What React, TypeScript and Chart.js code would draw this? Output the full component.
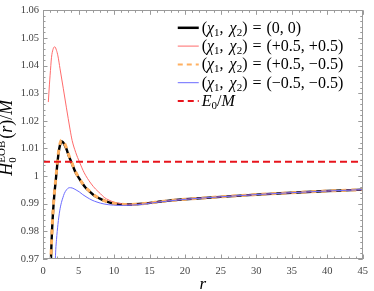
import React, { useEffect, useRef } from 'react';
import { Chart, registerables } from 'chart.js';

Chart.register(...registerables);

// ---------- data ----------
const rBlack = [1.1, 1.2, 1.4, 1.6, 1.8, 2.0, 2.2, 2.4, 2.6, 2.8, 3.0, 3.3, 3.6, 4.0, 4.5, 5.0, 5.5, 6.0, 6.5, 7.2, 7.9, 8.6, 9.3, 10, 11, 12, 13, 14, 16, 18, 20, 25, 30, 35, 40, 45];
const hBlack = [0.968, 0.976, 0.9865, 0.9935, 0.9985, 1.004, 1.0085, 1.0113, 1.0125, 1.0123, 1.0115, 1.0098, 1.0075, 1.005, 1.0018, 0.9995, 0.9975, 0.9958, 0.9946, 0.993, 0.992, 0.9911, 0.9905, 0.9901, 0.9898, 0.9897, 0.9898, 0.99, 0.9906, 0.9912, 0.9916, 0.9925, 0.9933, 0.994, 0.9946, 0.9951];

const rRed = [0.75, 0.9, 1.0, 1.2, 1.4, 1.65, 1.9, 2.1, 2.4, 2.85, 3.3, 3.8, 4.1, 4.6, 5.15, 5.8, 6.7, 7.4, 8.1, 8.6, 9.3, 10, 11, 12, 13, 14, 16, 18, 20, 25, 30, 35, 40, 45];
const hRed = [1.0268, 1.033, 1.0365, 1.043, 1.0458, 1.0468, 1.0455, 1.0435, 1.0388, 1.0318, 1.0247, 1.017, 1.0129, 1.0086, 1.005, 1.0012, 0.9975, 0.9953, 0.9936, 0.9923, 0.9913, 0.9906, 0.99, 0.9898, 0.9898, 0.99, 0.9906, 0.9912, 0.9916, 0.9925, 0.9933, 0.994, 0.9946, 0.9951];

const rOrange = [1.1, 1.2, 1.4, 1.6, 1.8, 2.0, 2.2, 2.4, 2.6, 2.8, 3.0, 3.3, 3.6, 4.0, 4.5, 5.0, 5.5, 6.0, 6.5, 7.2, 7.9, 8.6, 9.3, 10, 11, 12, 13, 14, 16, 18, 20, 25, 30, 35, 40, 45];
const hOrange = [0.968, 0.976, 0.9867, 0.9938, 0.999, 1.0045, 1.009, 1.0118, 1.013, 1.0128, 1.012, 1.0102, 1.0078, 1.0052, 1.002, 0.9996, 0.9976, 0.9959, 0.9947, 0.9931, 0.992, 0.9911, 0.9905, 0.9901, 0.9898, 0.9897, 0.9898, 0.99, 0.9906, 0.9912, 0.9916, 0.9925, 0.9933, 0.994, 0.9946, 0.9951];

const rBlue = [1.72, 1.8, 1.9, 2.1, 2.35, 2.6, 2.8, 3.0, 3.3, 3.7, 4.1, 4.65, 5.1, 5.6, 6.2, 6.9, 7.6, 8.6, 9.9, 11.3, 12.5, 14, 16, 18, 20, 25, 30, 35, 40, 45];
const hBlue = [0.969, 0.9735, 0.977, 0.9825, 0.9874, 0.9905, 0.9922, 0.9937, 0.995, 0.9958, 0.9957, 0.995, 0.9943, 0.9933, 0.9923, 0.9913, 0.9906, 0.9899, 0.9895, 0.9894, 0.9895, 0.9898, 0.9905, 0.9911, 0.9916, 0.9925, 0.9933, 0.994, 0.9946, 0.9951];

const E0 = 1.0052;

const xMin = 0, xMax = 45, xStep = 5, xMinor = 1;
const yMin = 0.97, yMax = 1.06, yStep = 0.01, yMinorPerMajor = 5;

const legendValues = ['(0, 0)', '(+0.5, +0.5)', '(+0.5, \u22120.5)', '(\u22120.5, \u22120.5)'];

// ---------- styles ----------
const SERIF = '"Liberation Serif", "Times New Roman", serif';
const font = (size: number, italic = false) => `${italic ? 'italic ' : ''}${size}px ${SERIF}`;

const C_BLACK = '#000000';
const C_RED = '#ff6b6b';
const C_ORANGE = '#ffb060';
const C_BLUE = '#6b6bff';
const C_E0 = '#e8141c';
const FRAME = '#9a9a9a';

const pts = (xs: number[], ys: number[]) => xs.map((x, i) => ({ x, y: ys[i] }));

type Run = [string, string, number];
function drawRuns(ctx: CanvasRenderingContext2D, x: number, y: number, runs: Run[]) {
  for (const [t, f, dy] of runs) {
    ctx.font = f;
    ctx.fillText(t, x, y + dy);
    x += ctx.measureText(t).width;
  }
  return x;
}
function runsWidth(ctx: CanvasRenderingContext2D, runs: Run[]) {
  let w = 0;
  for (const [t, f] of runs) {
    ctx.font = f;
    w += ctx.measureText(t).width;
  }
  return w;
}

const decorPlugin = {
  id: 'decor',
  afterDatasetsDraw(chart: any) {
    const ctx: CanvasRenderingContext2D = chart.ctx;
    const { left, right, top, bottom } = chart.chartArea;
    const xs = chart.scales.x;
    const ys = chart.scales.y;
    ctx.save();
    // frame
    ctx.strokeStyle = FRAME;
    ctx.lineWidth = 1;
    ctx.setLineDash([]);
    ctx.strokeRect(Math.round(left) + 0.5, Math.round(top) + 0.5, Math.round(right - left) - 1, Math.round(bottom - top) - 1);
    ctx.beginPath();
    const nx = Math.round((xMax - xMin) / xMinor);
    for (let i = 0; i <= nx; i++) {
      const v = xMin + i * xMinor;
      const px = Math.round(xs.getPixelForValue(v)) + 0.5;
      const len = (i * xMinor) % xStep === 0 ? 4.5 : 2.5;
      ctx.moveTo(px, bottom);
      ctx.lineTo(px, bottom - len);
      ctx.moveTo(px, top);
      ctx.lineTo(px, top + len);
    }
    const ny = Math.round((yMax - yMin) / yStep) * yMinorPerMajor;
    for (let i = 0; i <= ny; i++) {
      const v = yMin + (i * yStep) / yMinorPerMajor;
      const py = Math.round(ys.getPixelForValue(v)) + 0.5;
      const len = i % yMinorPerMajor === 0 ? 4.5 : 2.5;
      ctx.moveTo(left, py);
      ctx.lineTo(left + len, py);
      ctx.moveTo(right, py);
      ctx.lineTo(right - len, py);
    }
    ctx.stroke();

    // legend
    ctx.fillStyle = '#000';
    ctx.textBaseline = 'alphabetic';
    const lx0 = right - 185;
    const lx1 = lx0 + 21;
    const tx = lx1 + 3;
    const styles = [
      { c: C_BLACK, w: 2.5, d: [] as number[] },
      { c: C_RED, w: 1, d: [] as number[] },
      { c: C_ORANGE, w: 2, d: [5, 4] },
      { c: C_BLUE, w: 1, d: [] as number[] },
      { c: C_E0, w: 2, d: [6, 4] },
    ];
    for (let i = 0; i < 5; i++) {
      const yy = top + 17.5 + i * 18.3;
      ctx.beginPath();
      ctx.strokeStyle = styles[i].c;
      ctx.lineWidth = styles[i].w;
      ctx.setLineDash(styles[i].d);
      ctx.moveTo(lx0, yy);
      ctx.lineTo(lx1, yy);
      ctx.stroke();
      ctx.setLineDash([]);
      const base = yy + 5;
      if (i < 4) {
        let x = drawRuns(ctx, tx, base, [
          ['(', font(16), 0],
          ['\u03c7', font(16, true), 0],
          ['1', font(11), 3],
          [',', font(16), 0],
        ]);
        x += 6;
        x = drawRuns(ctx, x, base, [
          ['\u03c7', font(16, true), 0],
          ['2', font(11), 3],
          [')', font(16), 0],
        ]);
        x += 5;
        x = drawRuns(ctx, x, base, [['=', font(16), 0]]);
        x += 5;
        drawRuns(ctx, x, base, [[legendValues[i], font(16), 0]]);
      } else {
        drawRuns(ctx, tx, base, [
          ['E', font(16, true), 0],
          ['0', font(11), 3],
          ['/', font(16), 0],
          ['M', font(16, true), 0],
        ]);
      }
    }

    // x title
    ctx.font = font(17, true);
    ctx.textAlign = 'center';
    ctx.fillText('r', (left + right) / 2, 289);
    ctx.textAlign = 'left';

    // y title
    const cy = (top + bottom) / 2 + 3;
    ctx.translate(12, cy);
    ctx.rotate(-Math.PI / 2);
    ctx.font = font(18, true);
    const hW = ctx.measureText('H').width;
    ctx.font = font(11);
    const supW = ctx.measureText('EOB').width;
    const rest: Run[] = [
      ['(', font(18), 0],
      ['r', font(18, true), 0],
      [')/', font(18), 0],
      ['M', font(18, true), 0],
    ];
    const total = hW + supW + 2 + runsWidth(ctx, rest);
    let x = -total / 2;
    ctx.font = font(18, true);
    ctx.fillText('H', x, 0);
    x += hW;
    ctx.font = font(11);
    ctx.fillText('EOB', x, -7);
    ctx.fillText('0', x, 3.5);
    x += supW + 2;
    drawRuns(ctx, x, 0, rest);
    ctx.restore();
  },
};

export default function App() {
  const ref = useRef<HTMLCanvasElement | null>(null);
  useEffect(() => {
    document.body.style.margin = '0';
    const canvas = ref.current;
    if (!canvas) return;
    const line = (label: string, xs: number[], ys: number[], color: string, width: number, dash: number[] = []) => ({
      label,
      data: pts(xs, ys),
      showLine: true,
      borderColor: color,
      backgroundColor: color,
      borderWidth: width,
      borderDash: dash,
      pointRadius: 0,
      fill: false,
      cubicInterpolationMode: 'monotone' as const,
      clip: 0,
    });
    const chart = new Chart(canvas, {
      type: 'scatter',
      data: {
        datasets: [
          line('E0/M', [xMin, xMax], [E0, E0], C_E0, 2, [7, 4]),
          line('(-0.5,-0.5)', rBlue, hBlue, C_BLUE, 1),
          line('(+0.5,-0.5)', rOrange, hOrange, C_ORANGE, 3, [5, 5]),
          line('(+0.5,+0.5)', rRed, hRed, C_RED, 1),
          line('(0,0)', rBlack, hBlack, C_BLACK, 2.4),
        ] as any,
      },
      options: {
        animation: false,
        responsive: false,
        events: [],
        layout: { padding: { top: 5, right: 5, left: 0, bottom: 0 } },
        plugins: { legend: { display: false }, tooltip: { enabled: false } },
        elements: { point: { radius: 0 } },
        scales: {
          x: {
            type: 'linear',
            min: xMin,
            max: xMax,
            grid: { display: false, drawTicks: false },
            border: { display: false },
            ticks: { stepSize: xStep, font: { family: SERIF, size: 10.5 }, color: '#444', padding: 6, maxRotation: 0 },
            afterFit: (s: any) => { s.height = 32; },
          },
          y: {
            type: 'linear',
            min: yMin,
            max: yMax,
            grid: { display: false, drawTicks: false },
            border: { display: false },
            ticks: {
              stepSize: yStep,
              font: { family: SERIF, size: 10.5 },
              color: '#444',
              padding: 4,
              callback: (v: any) => String(Math.round(Number(v) * 100) / 100),
            },
            afterFit: (s: any) => { s.width = 43; },
          },
        },
      } as any,
      plugins: [decorPlugin],
    });
    return () => chart.destroy();
  }, []);
  return (
    <div style={{ width: 374, height: 291 }}>
      <canvas ref={ref} width={374} height={291} style={{ display: 'block' }} />
    </div>
  );
}
